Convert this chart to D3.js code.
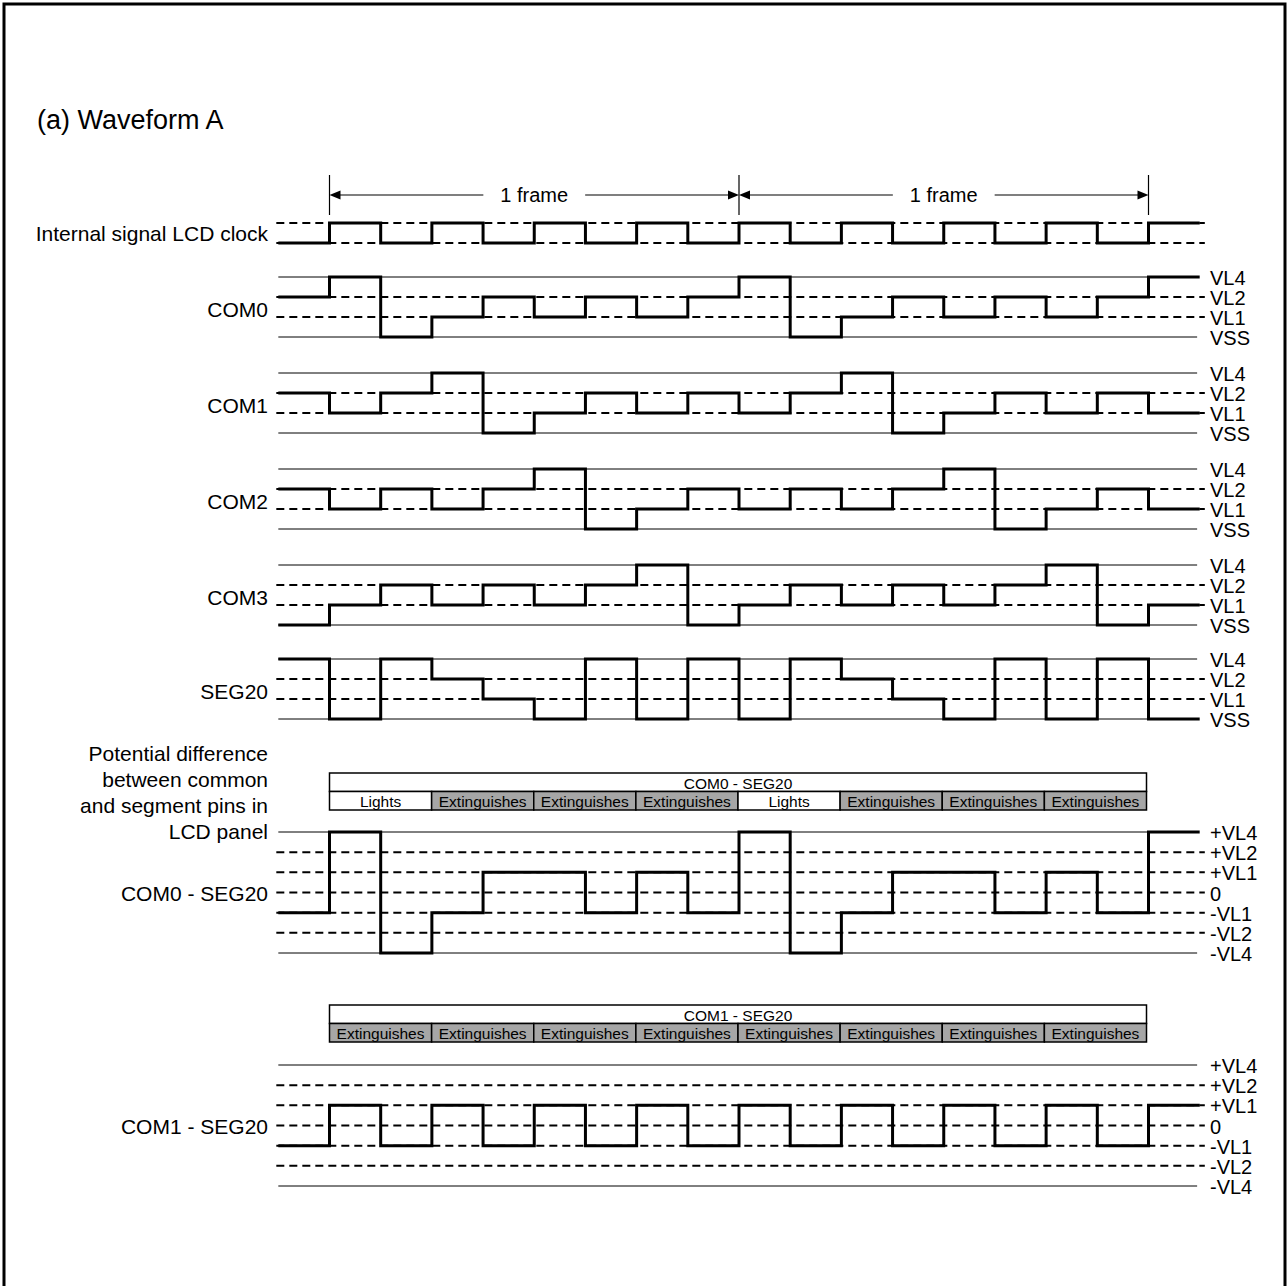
<!DOCTYPE html>
<html>
<head>
<meta charset="utf-8">
<script src="https://cdn.jsdelivr.net/npm/d3@7"></script>
<style>
html,body{margin:0;padding:0;background:#fff;}
svg text{font-family:"Liberation Sans",Arial,sans-serif;fill:#000;}
</style>
</head>
<body>
<svg id="chart" width="1288" height="1286"></svg>
<script>
// ---------- data ----------
const title = "(a) Waveform A";
const frameLabels = ["1 frame", "1 frame"];
const clockName = "Internal signal LCD clock";
const clockLevels = ["H", "L"];
const clock = ["L","H","L","H","L","H","L","H","L","H","L","H","L","H","L","H","L","H"];

const signalNames = ["COM0", "COM1", "COM2", "COM3", "SEG20"];
const levelNames = ["VL4", "VL2", "VL1", "VSS"];
const com0  = ["VL2","VL4","VSS","VL1","VL2","VL1","VL2","VL1","VL2","VL4","VSS","VL1","VL2","VL1","VL2","VL1","VL2","VL4"];
const com1  = ["VL2","VL1","VL2","VL4","VSS","VL1","VL2","VL1","VL2","VL1","VL2","VL4","VSS","VL1","VL2","VL1","VL2","VL1"];
const com2  = ["VL2","VL1","VL2","VL1","VL2","VL4","VSS","VL1","VL2","VL1","VL2","VL1","VL2","VL4","VSS","VL1","VL2","VL1"];
const com3  = ["VSS","VL1","VL2","VL1","VL2","VL1","VL2","VL4","VSS","VL1","VL2","VL1","VL2","VL1","VL2","VL4","VSS","VL1"];
const seg20 = ["VL4","VSS","VL4","VL2","VL1","VSS","VL4","VSS","VL4","VSS","VL4","VL2","VL1","VSS","VL4","VSS","VL4","VSS"];

const diffCaption = ["Potential difference", "between common", "and segment pins in", "LCD panel"];
const diffLevelNames = ["+VL4", "+VL2", "+VL1", "0", "-VL1", "-VL2", "-VL4"];
const diffNames = ["COM0 - SEG20", "COM1 - SEG20"];
const diff0 = ["-VL1","+VL4","-VL4","-VL1","+VL1","+VL1","-VL1","+VL1","-VL1","+VL4","-VL4","-VL1","+VL1","+VL1","-VL1","+VL1","-VL1","+VL4"];
const diff1 = ["-VL1","+VL1","-VL1","+VL1","-VL1","+VL1","-VL1","+VL1","-VL1","+VL1","-VL1","+VL1","-VL1","+VL1","-VL1","+VL1","-VL1","+VL1"];
const cells0 = ["Lights","Extinguishes","Extinguishes","Extinguishes","Lights","Extinguishes","Extinguishes","Extinguishes"];
const cells1 = ["Extinguishes","Extinguishes","Extinguishes","Extinguishes","Extinguishes","Extinguishes","Extinguishes","Extinguishes"];

// ---------- layout ----------
const svg = d3.select("#chart");
const FONT = 21, RFONT = 20;
const x = d3.scaleLinear().domain([0, 16]).range([329.5, 1148.5]);
const T_START = -1, T_THIN_END = 16.95, T_DASH_END = 17.1, T_SIG_END = 17;
const labelX = 268, rightX = 1210;
const dashStyle = "8,5";

// border
svg.append("rect").attr("x", 4).attr("y", 4).attr("width", 1281).attr("height", 1320)
  .attr("fill", "none").attr("stroke", "#000").attr("stroke-width", 3);

// title
svg.append("text").attr("x", 37).attr("y", 129).attr("font-size", 27).text(title);

const stepLine = d3.line().curve(d3.curveStepAfter);
function drawSignal(g, values, y) {
  const pts = values.map((v, i) => [x(i - 1), y(v)]);
  pts.push([x(T_SIG_END), y(values[values.length - 1])]);
  g.append("path").attr("d", stepLine(pts)).attr("fill", "none")
    .attr("stroke", "#000").attr("stroke-width", 3).attr("stroke-linejoin", "miter");
}
function refLine(g, yy, dashed) {
  g.append("line")
    .attr("x1", x(T_START) - (dashed ? 2 : 0)).attr("x2", x(dashed ? T_DASH_END : T_THIN_END))
    .attr("y1", yy).attr("y2", yy)
    .attr("stroke", "#000")
    .attr("stroke-width", dashed ? 2 : 1)
    .attr("stroke-dasharray", dashed ? dashStyle : null);
}

// frame arrows
const fg = svg.append("g");
[0, 8, 16].forEach(t => {
  fg.append("line").attr("x1", x(t)).attr("x2", x(t)).attr("y1", 175).attr("y2", 215)
    .attr("stroke", "#000").attr("stroke-width", 1.2);
});
frameLabels.forEach((lab, k) => {
  const t0 = k * 8, t1 = t0 + 8, yA = 195;
  const txt = fg.append("text").attr("x", x((t0 + t1) / 2)).attr("y", yA)
    .attr("text-anchor", "middle").attr("dominant-baseline", "central")
    .attr("font-size", RFONT).text(lab);
  const w = txt.node().getComputedTextLength();
  const cx = x((t0 + t1) / 2), gap = 17;
  fg.append("line").attr("x1", x(t0) + 8).attr("x2", cx - w / 2 - gap).attr("y1", yA).attr("y2", yA)
    .attr("stroke", "#000").attr("stroke-width", 1.2);
  fg.append("line").attr("x1", cx + w / 2 + gap).attr("x2", x(t1) - 8).attr("y1", yA).attr("y2", yA)
    .attr("stroke", "#000").attr("stroke-width", 1.2);
  fg.append("path").attr("d", d3.line()([[x(t0), yA], [x(t0) + 11, yA - 4.5], [x(t0) + 11, yA + 4.5]]) + "Z").attr("fill", "#000");
  fg.append("path").attr("d", d3.line()([[x(t1), yA], [x(t1) - 11, yA - 4.5], [x(t1) - 11, yA + 4.5]]) + "Z").attr("fill", "#000");
});

// clock
const cg = svg.append("g");
const yClock = d3.scalePoint().domain(clockLevels).range([223, 243]);
clockLevels.forEach(l => refLine(cg, yClock(l), true));
drawSignal(cg, clock, yClock);
cg.append("text").attr("x", labelX).attr("y", 233).attr("text-anchor", "end")
  .attr("dominant-baseline", "central").attr("font-size", FONT).text(clockName);

// COM / SEG signals
const signals = [com0, com1, com2, com3, seg20];
const groupTops = [277, 373, 469, 565, 659];
signals.forEach((vals, k) => {
  const g = svg.append("g");
  const top = groupTops[k];
  const y = d3.scalePoint().domain(levelNames).range([top, top + 60]);
  levelNames.forEach(l => refLine(g, y(l), l === "VL2" || l === "VL1"));
  drawSignal(g, vals, y);
  levelNames.forEach(l => {
    g.append("text").attr("x", rightX).attr("y", y(l) + 1).attr("dominant-baseline", "central")
      .attr("font-size", RFONT).text(l);
  });
  g.append("text").attr("x", labelX).attr("y", (y("VL2") + y("VL1")) / 2 + 2)
    .attr("text-anchor", "end").attr("dominant-baseline", "central")
    .attr("font-size", FONT).text(signalNames[k]);
});

// potential difference caption
diffCaption.forEach((line, i) => {
  svg.append("text").attr("x", labelX).attr("y", 753 + i * 26).attr("text-anchor", "end")
    .attr("dominant-baseline", "central").attr("font-size", FONT).text(line);
});

// difference panels
const diffs = [diff0, diff1];
const cellSets = [cells0, cells1];
const diffTops = [832, 1065];
const boxTops = [773, 1005];
diffs.forEach((vals, k) => {
  const g = svg.append("g");
  const top = diffTops[k];
  const y = d3.scalePoint().domain(diffLevelNames).range([top, top + 121]);
  diffLevelNames.forEach(l => refLine(g, y(l), !(l === "+VL4" || l === "-VL4")));
  drawSignal(g, vals, y);
  diffLevelNames.forEach(l => {
    g.append("text").attr("x", rightX).attr("y", y(l) + 1).attr("dominant-baseline", "central")
      .attr("font-size", RFONT).text(l);
  });
  g.append("text").attr("x", labelX).attr("y", y("0") + 1).attr("text-anchor", "end")
    .attr("dominant-baseline", "central").attr("font-size", FONT).text(diffNames[k]);

  // status box
  const bt = boxTops[k], rowH = 18.5;
  const bx0 = x(0), bx1 = x(16) - 2;
  g.append("rect").attr("x", bx0).attr("y", bt).attr("width", bx1 - bx0).attr("height", rowH)
    .attr("fill", "#fff").attr("stroke", "#000").attr("stroke-width", 1.5);
  g.append("text").attr("x", (bx0 + bx1) / 2).attr("y", bt + rowH / 2 + 1).attr("text-anchor", "middle")
    .attr("dominant-baseline", "central").attr("font-size", 15.5).text(diffNames[k]);
  const cw = (bx1 - bx0) / cellSets[k].length;
  cellSets[k].forEach((c, i) => {
    g.append("rect").attr("x", bx0 + i * cw).attr("y", bt + rowH).attr("width", cw).attr("height", rowH)
      .attr("fill", c === "Lights" ? "#fff" : "#a6a6a6").attr("stroke", "#000").attr("stroke-width", 1.5);
    g.append("text").attr("x", bx0 + i * cw + cw / 2).attr("y", bt + rowH * 1.5 + 1).attr("text-anchor", "middle")
      .attr("dominant-baseline", "central").attr("font-size", 15.5).text(c);
  });
});
</script>
</body>
</html>
